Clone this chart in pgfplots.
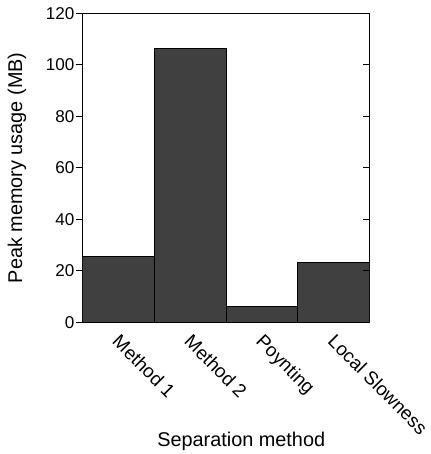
\documentclass[border=0pt]{standalone}
\usepackage{pgfplots}
\pgfplotsset{compat=1.18}
\usepackage{fontspec}
\setmainfont{Liberation Sans}

\definecolor{barfill}{HTML}{404040}

\pgfplotstableread{
x label value
0 {Method 1} 25.5
1 {Method 2} 106.5
2 {Poynting} 6.2
3 {Local Slowness} 23.3
}\memtable

\newcommand{\labelfont}{\fontsize{20}{24}\selectfont}
\newcommand{\catfont}{\fontsize{19}{23}\selectfont}
\newcommand{\numfont}{\fontsize{17.2}{21}\selectfont}

\begin{document}
\begin{tikzpicture}
\pgfplotsset{
  common/.style={
    scale only axis,
    width=288bp, height=310bp,
    xmin=-0.5, xmax=3.5,
    ymin=0, ymax=120,
    ytick={0,20,...,120},
    axis line style={line width=0.8bp},
    major tick length=6.5bp,
    every tick/.style={line width=0.8bp, black},
  }
}
\begin{axis}[
  common,
  /pgf/number format/assume math mode=true,
  yticklabel style={font=\numfont, inner sep=1.5bp},
  xticklabel style={font=\catfont, rotate=-45, anchor=north west, inner sep=1bp, xshift=4bp},
  label style={font=\labelfont},
  ytick pos=left,
  tick align=outside,
  xtick=data,
  xticklabels from table={\memtable}{label},
  x tick style={draw=none},
  ylabel={Peak memory usage (MB)},
  xlabel={Separation method},
  ylabel style={at={(axis description cs:-0.228,0.5)}, anchor=center},
  xlabel style={at={(axis description cs:0.553,-0.402)}, anchor=base},
  ybar, bar width=1, bar shift=0pt,
]
\addplot[fill=barfill, draw=black, line width=0.8bp] table[x=x, y=value] {\memtable};
\end{axis}
\begin{axis}[
  common,
  ytick pos=right,
  tick align=inside,
  yticklabels={},
  xtick=\empty,
  axis line style={draw=none},
]
\end{axis}
\useasboundingbox (-82.7bp,-130.7bp) rectangle (344.3bp,323.3bp);
\end{tikzpicture}
\end{document}
